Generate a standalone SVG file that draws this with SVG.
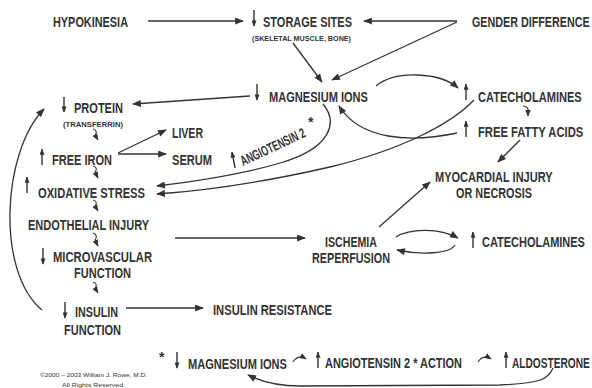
<svg xmlns="http://www.w3.org/2000/svg" width="592" height="388" viewBox="0 0 592 388">
<defs>
<style>
text{font-family:"Liberation Sans Narrow","Liberation Sans",Arial,sans-serif;font-weight:bold;fill:#333;font-size:14px}
.sm{font-size:7.5px}
.cp{font-size:6px;font-weight:normal}
.ln{fill:none;stroke:#333;stroke-width:1.3}
.ar{marker-end:url(#ah)}
.va{fill:none;stroke:#333;stroke-width:1.4;marker-end:url(#sh)}
.cu{fill:none;stroke:#333;stroke-width:1.1;marker-end:url(#ch)}
</style>
<marker id="ah" viewBox="0 0 10 8" refX="9" refY="4" markerWidth="10" markerHeight="7" markerUnits="userSpaceOnUse" orient="auto"><path d="M0,0 L10,4 L0,8 z" fill="#333"/></marker>
<marker id="sh" viewBox="0 0 10 8" refX="9" refY="4" markerWidth="7" markerHeight="5" markerUnits="userSpaceOnUse" orient="auto"><path d="M0,0 L10,4 L0,8 z" fill="#333"/></marker>
<marker id="ch" viewBox="0 0 10 8" refX="9" refY="4" markerWidth="7" markerHeight="6" markerUnits="userSpaceOnUse" orient="auto"><path d="M0,0 L10,4 L0,8 z" fill="#333"/></marker>
</defs>
<rect width="592" height="388" fill="#fff"/>

<g id="connectors">
<path class="ln ar" d="M148,21 L243,21"/>
<path class="ln ar" d="M457,21 L364,21"/>
<path class="ln ar" d="M457,22 L332,80"/>
<path class="ln ar" d="M293,43 L322,82"/>
<path class="ln ar" d="M250,96 L133,104"/>
<path class="ln ar" d="M376,86 C395,70 440,72 458,88"/>
<path class="ln ar" d="M457,133 C410,143 360,140 339,106"/>
<path class="ln ar" d="M323,104 C338,122 332,148 280,163 C240,175 190,182 157,186"/>
<path class="ln ar" d="M474,100 C450,125 400,150 330,167 C260,183 200,191 157,194"/>
<path class="ln ar" d="M118,153 L166,130"/>
<path class="ln ar" d="M118,154 L166,154"/>
<path class="ln ar" d="M520,140 L498,162"/>
<path class="ln ar" d="M175,238 L305,238"/>
<path class="ln ar" d="M379,227 L430,182"/>
<path class="ln ar" d="M396,237 C410,228 440,228 458,238"/>
<path class="ln ar" d="M455,245 C450,254 420,255 397,250"/>
<path class="ln ar" d="M126,308 L203,308"/>
<path class="ln ar" d="M42,310 C-4,272 2,152 44,109"/>
<path class="ln ar" d="M553,368 C548,380 540,383 500,385 L300,386 C280,386 262,382 248,375"/>
<path class="cu" d="M93,129 c4,1 4,4 2,6 l3,5"/>
<path class="cu" d="M93,166 c4,1 4,4 2,6 l3,6"/>
<path class="cu" d="M93,200 c4,1 4,4 2,6 l3,5"/>
<path class="cu" d="M93,233 c4,1 4,5 2,7 l3,6"/>
<path class="cu" d="M93,282 c4,1 4,4 2,6 l3,5"/>
<path class="cu" d="M523,106 c4,0 6,3 5,6 l0,4"/>
<path class="cu" d="M293,362 q5,-8 13,-3"/>
<path class="cu" d="M478,362 q5,-8 13,-3"/>
</g>

<g id="hypokinesia"><text x="53" y="27" textLength="75" lengthAdjust="spacingAndGlyphs">HYPOKINESIA</text></g>
<g id="storage-sites">
<path class="va" d="M254,10 L254,26"/>
<text x="263" y="27" textLength="89" lengthAdjust="spacingAndGlyphs">STORAGE SITES</text>
<text class="sm" x="252" y="41" textLength="99" lengthAdjust="spacingAndGlyphs">(SKELETAL MUSCLE, BONE)</text>
</g>
<g id="gender-difference"><text transform="translate(472,27) scale(0.74,1)" textLength="159" lengthAdjust="spacingAndGlyphs">GENDER DIFFERENCE</text></g>
<g id="magnesium-ions">
<path class="va" d="M257,84 L257,100"/>
<text x="269" y="102" textLength="99" lengthAdjust="spacingAndGlyphs">MAGNESIUM IONS</text>
</g>
<g id="catecholamines-1">
<path class="va" d="M466,100 L466,84"/>
<text transform="translate(478,102) scale(0.78,1)" textLength="133" lengthAdjust="spacingAndGlyphs">CATECHOLAMINES</text>
</g>
<g id="protein">
<path class="va" d="M64,97 L64,112"/>
<text x="74" y="113" textLength="49" lengthAdjust="spacingAndGlyphs">PROTEIN</text>
<text class="sm" x="63" y="127" textLength="60" lengthAdjust="spacingAndGlyphs">(TRANSFERRIN)</text>
</g>
<g id="free-fatty-acids">
<path class="va" d="M466,137 L466,121"/>
<text transform="translate(478,137) scale(0.78,1)" textLength="135" lengthAdjust="spacingAndGlyphs">FREE FATTY ACIDS</text>
</g>
<g id="liver"><text x="172" y="138" textLength="31" lengthAdjust="spacingAndGlyphs">LIVER</text></g>
<g id="free-iron">
<path class="va" d="M42,165 L42,149"/>
<text x="52" y="165" textLength="60" lengthAdjust="spacingAndGlyphs">FREE IRON</text>
</g>
<g id="serum"><text x="172" y="165" textLength="40" lengthAdjust="spacingAndGlyphs">SERUM</text></g>
<g id="angiotensin-2">
<path class="va" d="M235,168 L232,152"/>
<text x="243" y="166" font-size="11" transform="rotate(-25 243 166)" textLength="70" lengthAdjust="spacingAndGlyphs">ANGIOTENSIN 2</text>
<text x="308" y="127" font-size="14">*</text>
</g>
<g id="myocardial-injury">
<text transform="translate(435,182) scale(0.8,1)" textLength="147" lengthAdjust="spacingAndGlyphs">MYOCARDIAL INJURY</text>
<text x="456" y="198" textLength="76" lengthAdjust="spacingAndGlyphs">OR NECROSIS</text>
</g>
<g id="oxidative-stress">
<path class="va" d="M27,193 L27,177"/>
<text x="38" y="198" textLength="107" lengthAdjust="spacingAndGlyphs">OXIDATIVE STRESS</text>
</g>
<g id="endothelial-injury"><text x="28" y="230" textLength="121" lengthAdjust="spacingAndGlyphs">ENDOTHELIAL INJURY</text></g>
<g id="ischemia-reperfusion">
<text x="325" y="247" textLength="52" lengthAdjust="spacingAndGlyphs">ISCHEMIA</text>
<text x="312" y="263" textLength="78" lengthAdjust="spacingAndGlyphs">REPERFUSION</text>
</g>
<g id="catecholamines-2">
<path class="va" d="M473,248 L473,232"/>
<text transform="translate(482,247) scale(0.78,1)" textLength="132" lengthAdjust="spacingAndGlyphs">CATECHOLAMINES</text>
</g>
<g id="microvascular-function">
<path class="va" d="M43,248 L43,264"/>
<text x="53" y="262" textLength="99" lengthAdjust="spacingAndGlyphs">MICROVASCULAR</text>
<text x="74" y="278" textLength="57" lengthAdjust="spacingAndGlyphs">FUNCTION</text>
</g>
<g id="insulin-function">
<path class="va" d="M65,302 L65,318"/>
<text x="75" y="317" textLength="43" lengthAdjust="spacingAndGlyphs">INSULIN</text>
<text x="64" y="335" textLength="57" lengthAdjust="spacingAndGlyphs">FUNCTION</text>
</g>
<g id="insulin-resistance"><text x="213" y="315" textLength="119" lengthAdjust="spacingAndGlyphs">INSULIN RESISTANCE</text></g>
<g id="magnesium-ions-2">
<text x="159" y="362" font-size="14">*</text>
<path class="va" d="M177,352 L177,368"/>
<text x="188" y="369" textLength="99" lengthAdjust="spacingAndGlyphs">MAGNESIUM IONS</text>
</g>
<g id="angiotensin-2-action">
<path class="va" d="M318,368 L318,352"/>
<text x="325" y="368" textLength="137" lengthAdjust="spacingAndGlyphs">ANGIOTENSIN 2 * ACTION</text>
</g>
<g id="aldosterone">
<path class="va" d="M506,368 L506,352"/>
<text transform="translate(512,368) scale(0.72,1)" textLength="108" lengthAdjust="spacingAndGlyphs">ALDOSTERONE</text>
</g>
<g id="copyright">
<text class="cp" x="40" y="377" textLength="107" lengthAdjust="spacingAndGlyphs">©2000 – 2003 William J. Rowe, M.D.</text>
<text class="cp" x="62" y="387" textLength="63" lengthAdjust="spacingAndGlyphs">All Rights Reserved.</text>
</g>
</svg>
